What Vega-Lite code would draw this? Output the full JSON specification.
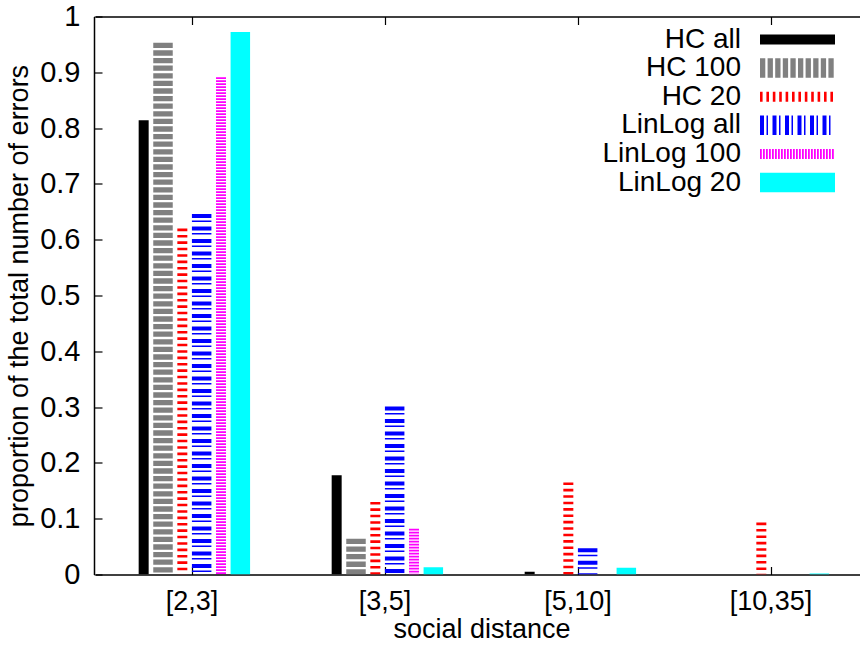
{
  "$schema": "https://vega.github.io/schema/vega-lite/v6.json",
  "width": 766,
  "height": 558,
  "autosize": "none",
  "padding": {"left": 94, "top": 16.5, "right": 0, "bottom": 71.5},
  "background": "white",
  "config": {
    "view": {"stroke": null},
    "font": "Liberation Sans",
    "axis": {
      "domainColor": "black",
      "domainWidth": 1.5,
      "tickColor": "black",
      "tickWidth": 1.2,
      "tickSize": -8,
      "grid": false,
      "zindex": 1,
      "labelColor": "black",
      "titleColor": "black",
      "labelFont": "Liberation Sans",
      "titleFont": "Liberation Sans",
      "labelFontSize": 27,
      "titleFontSize": 27,
      "titleFontWeight": "normal"
    }
  },
  "data": {
    "values": [
      {"distance": "[2,3]", "series": "HC all", "value": 0.814},
      {"distance": "[2,3]", "series": "HC 100", "value": 0.953},
      {"distance": "[2,3]", "series": "HC 20", "value": 0.62},
      {"distance": "[2,3]", "series": "LinLog all", "value": 0.646},
      {"distance": "[2,3]", "series": "LinLog 100", "value": 0.891},
      {"distance": "[2,3]", "series": "LinLog 20", "value": 0.972},
      {"distance": "[3,5]", "series": "HC all", "value": 0.178},
      {"distance": "[3,5]", "series": "HC 100", "value": 0.064},
      {"distance": "[3,5]", "series": "HC 20", "value": 0.13},
      {"distance": "[3,5]", "series": "LinLog all", "value": 0.301},
      {"distance": "[3,5]", "series": "LinLog 100", "value": 0.082},
      {"distance": "[3,5]", "series": "LinLog 20", "value": 0.013},
      {"distance": "[5,10]", "series": "HC all", "value": 0.005},
      {"distance": "[5,10]", "series": "HC 100", "value": 0},
      {"distance": "[5,10]", "series": "HC 20", "value": 0.165},
      {"distance": "[5,10]", "series": "LinLog all", "value": 0.047},
      {"distance": "[5,10]", "series": "LinLog 100", "value": 0},
      {"distance": "[5,10]", "series": "LinLog 20", "value": 0.012},
      {"distance": "[10,35]", "series": "HC all", "value": 0},
      {"distance": "[10,35]", "series": "HC 100", "value": 0},
      {"distance": "[10,35]", "series": "HC 20", "value": 0.093},
      {"distance": "[10,35]", "series": "LinLog all", "value": 0},
      {"distance": "[10,35]", "series": "LinLog 100", "value": 0},
      {"distance": "[10,35]", "series": "LinLog 20", "value": 0.002}
    ]
  },
  "layer": [
    {
      "mark": {"type": "rule", "strokeCap": "butt", "clip": true},
      "encoding": {
        "x": {
          "field": "distance",
          "type": "ordinal",
          "sort": ["[2,3]", "[3,5]", "[5,10]", "[10,35]"],
          "scale": {"range": [1.5, 773.5], "paddingInner": 0, "paddingOuter": 0},
          "axis": {"orient": "bottom", "labelAngle": 0, "labelPadding": 22, "titlePadding": 2},
          "title": "social distance"
        },
        "xOffset": {
          "field": "series",
          "type": "nominal",
          "sort": ["HC all", "HC 100", "HC 20", "LinLog all", "LinLog 100", "LinLog 20"],
          "scale": {"range": [38.5, 154.5], "paddingOuter": 0, "paddingInner": 0}
        },
        "y": {
          "field": "value",
          "type": "quantitative",
          "scale": {"domain": [0, 1], "nice": false},
          "axis": {
            "values": [0, 0.1, 0.2, 0.3, 0.4, 0.5, 0.6, 0.7, 0.8, 0.9, 1],
            "format": "~g",
            "labelPadding": 22,
            "labelFontSize": 29,
            "titlePadding": 6
          },
          "title": "proportion of the total number of errors"
        },
        "y2": {"datum": 0},
        "color": {
          "field": "series",
          "type": "nominal",
          "scale": {
            "domain": ["HC all", "HC 100", "HC 20", "LinLog all", "LinLog 100", "LinLog 20"],
            "range": ["#000000", "#808080", "#ff0000", "#0000ff", "#ff00ff", "#00ffff"]
          },
          "legend": {
            "orient": "none",
            "legendX": 666,
            "legendY": 9,
            "padding": 0,
            "title": null,
            "symbolType": "M-7.5,0H7.5",
            "symbolSize": 100,
            "symbolOffset": 23.5,
            "clipHeight": 28,
            "rowPadding": 0.6,
            "labelFontSize": 28,
            "labelColor": "black",
            "labelAlign": "right",
            "labelOffset": -70.5,
            "labelLimit": 300,
            "encode": {
              "entries": {
                "update": {
                  "width": {"value": 160}
                }
              },
              "symbols": {
                "update": {
                  "strokeWidth": {"signal": "indexof(['HC all','HC 20','LinLog 100'], datum.value) >= 0 ? 10 : 19.5"},
                  "opacity": {"value": 1}
                }
              }
            }
          }
        },
        "strokeDash": {
          "field": "series",
          "type": "nominal",
          "scale": {
            "domain": ["HC all", "HC 100", "HC 20", "LinLog all", "LinLog 100", "LinLog 20"],
            "range": [[1, 0], [5.3, 2.3], [2.6, 3.8], [4, 2.5, 1.5, 4.5], [1.8, 1.2], [1, 0]]
          }
        },
        "strokeWidth": {
          "condition": {"test": "indexof(['HC all','HC 20','LinLog 100'], datum.series) >= 0", "value": 10},
          "value": 19.5
        }
      }
    },
    {
      "mark": {"type": "rule", "opacity": 0},
      "encoding": {
        "x": {
          "field": "distance",
          "type": "ordinal",
          "sort": ["[2,3]", "[3,5]", "[5,10]", "[10,35]"],
          "axis": {"orient": "top", "labels": false, "title": null}
        }
      }
    }
  ],
  "resolve": {"axis": {"x": "independent"}}
}
